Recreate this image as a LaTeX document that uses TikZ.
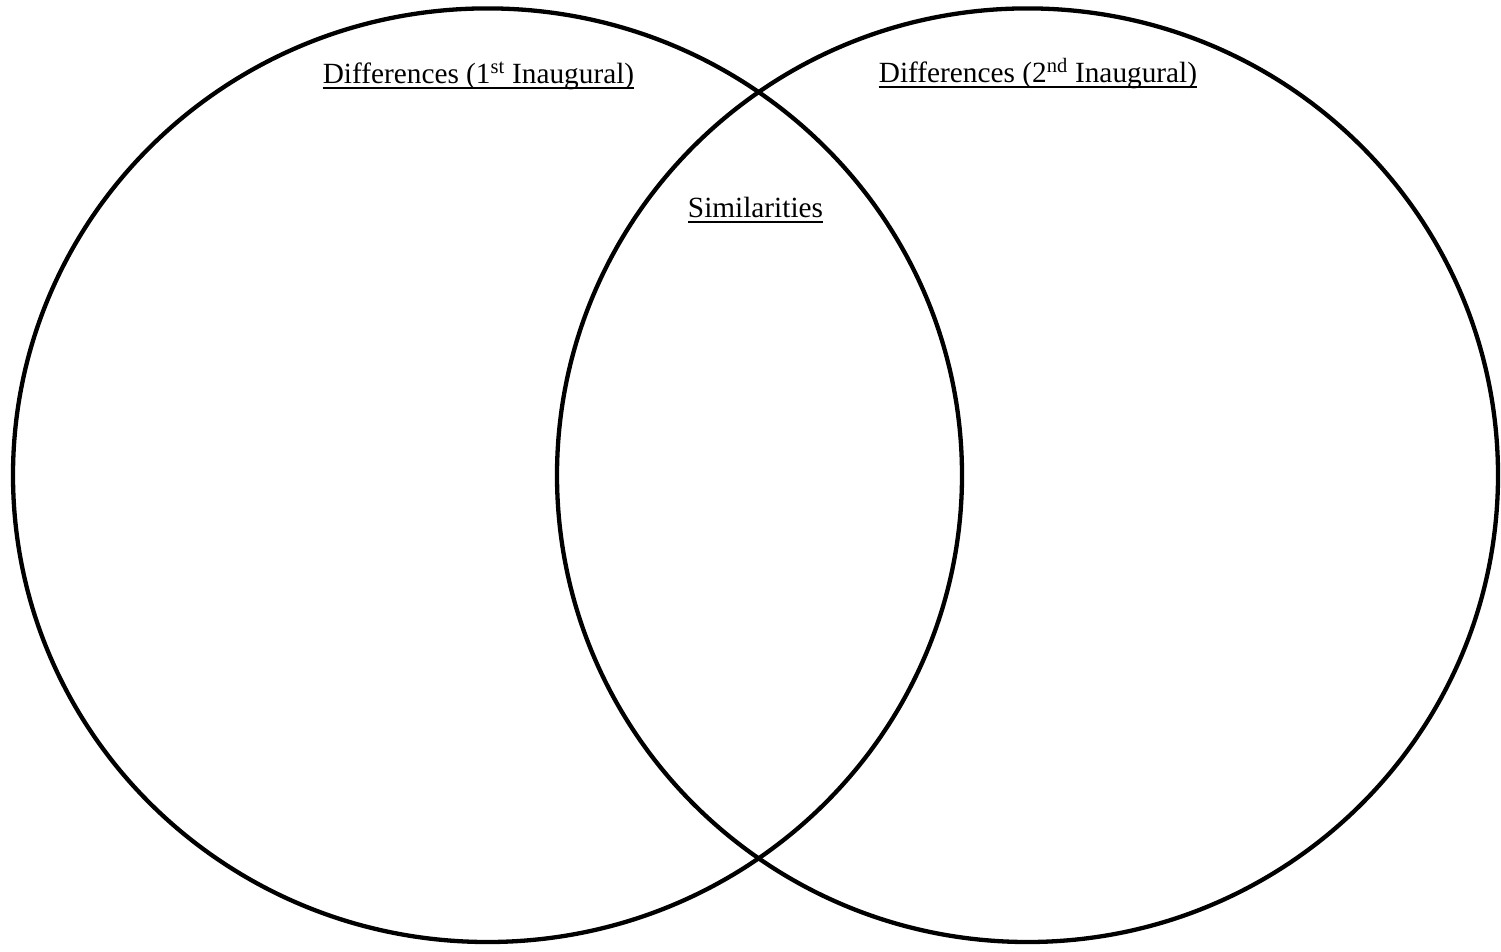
\documentclass[tikz,border=0pt]{standalone}
\usepackage{fontspec}
\setmainfont{Liberation Serif}
\begin{document}
\begin{tikzpicture}[x=1pt,y=-1pt,
  ring/.style={draw=black,line width=4.3pt},
  uline/.style={draw=black,line width=2pt},
  lbl/.style={anchor=base,inner sep=0pt,font=\fontsize{29.3}{35}\selectfont}]
\useasboundingbox (0,0) rectangle (1501,951);
\draw[ring] (487.5,475.2) ellipse [x radius=474.5, y radius=466.8];
\draw[ring] (1027.5,475.2) ellipse [x radius=470.5, y radius=466.8];
\node[lbl] (d1) at (478.5,83) {Differences (1\textsuperscript{st} Inaugural)};
\node[lbl] (d2) at (1038,82) {Differences (2\textsuperscript{nd} Inaugural)};
\node[lbl] (sim) at (755.5,217) {Similarities};
\foreach \n in {d1,d2,sim}
  \draw[uline] ([yshift=-5pt]\n.base west) -- ([yshift=-5pt]\n.base east);
\end{tikzpicture}
\end{document}
